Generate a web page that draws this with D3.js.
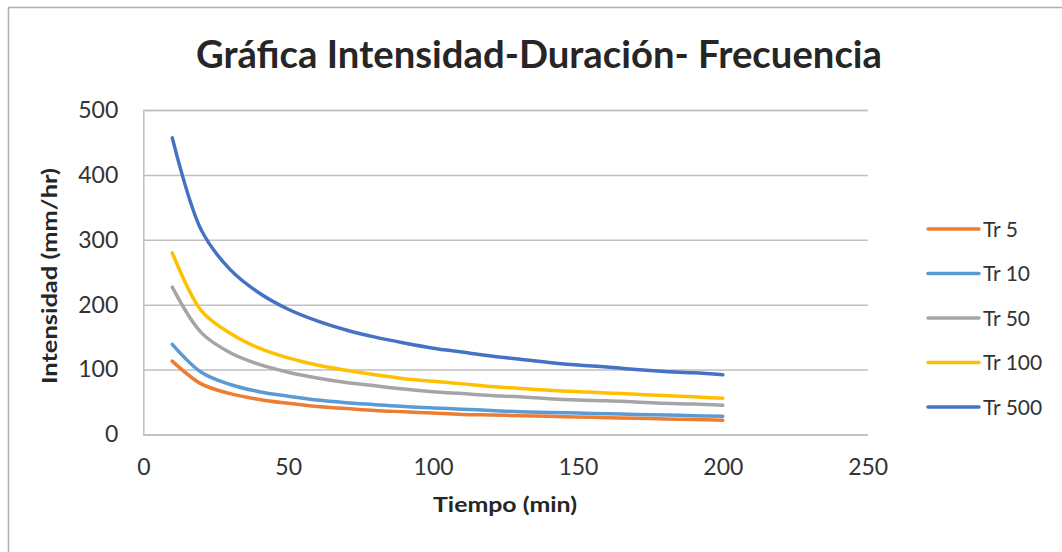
<!DOCTYPE html>
<html>
<head>
<meta charset="utf-8">
<script src="https://cdn.jsdelivr.net/npm/d3@7"></script>
<style>
  html, body { margin: 0; padding: 0; background: #fff; }
  svg { display: block; font-family: Lato, "Open Sans", sans-serif; }
</style>
</head>
<body>
<svg id="chart" width="1062" height="552"></svg>
<script>
// Duration (min) and rainfall intensity (mm/hr) for each return period
const durations = [10, 20, 30, 40, 50, 60, 70, 80, 90, 100, 110, 120, 130, 140, 150, 160, 170, 180, 190, 200];
const tr5   = [113, 78, 63, 54, 48, 43, 40, 37, 35, 33, 31, 30, 29, 28, 27, 26, 25, 24, 23, 22];
const tr10  = [139, 96, 77, 66, 59, 53, 49, 46, 43, 41, 39, 37, 35, 34, 33, 32, 31, 30, 29, 28];
const tr50  = [227, 157, 126, 108, 96, 87, 80, 75, 70, 66, 63, 60, 58, 55, 53, 52, 50, 48, 47, 45];
const tr100 = [280, 191, 156, 133, 118, 107, 99, 92, 86, 82, 78, 74, 71, 68, 66, 64, 62, 60, 58, 56];
const tr500 = [457, 315, 254, 218, 193, 175, 161, 150, 141, 133, 127, 121, 116, 111, 107, 104, 100, 97, 95, 92];

const seriesNames = ["Tr 5", "Tr 10", "Tr 50", "Tr 100", "Tr 500"];
const seriesValues = [tr5, tr10, tr50, tr100, tr500];
const seriesColors = ["#ED7D31", "#5B9BD5", "#A5A5A5", "#FFC000", "#4472C4"];

const xTicks = [0, 50, 100, 150, 200, 250];
const yTicks = [0, 100, 200, 300, 400, 500];

const titleText = "Gráfica Intensidad-Duración- Frecuencia";
const xTitle = "Tiempo (min)";
const yTitle = "Intensidad (mm/hr)";

const svg = d3.select("#chart");
const W = 1062, H = 552;
const plot = { left: 143.3, right: 867.7, top: 110, bottom: 434.5 };

const x = d3.scaleLinear().domain([0, 250]).range([plot.left, plot.right]);
const y = d3.scaleLinear().domain([0, 500]).range([plot.bottom, plot.top]);

const gridColor = "#BFBFBF";
const textColor = "#333333";

// chart frame
svg.append("rect")
  .attr("x", 8.5).attr("y", 7.5)
  .attr("width", W + 10).attr("height", H + 10)
  .attr("fill", "#fff")
  .attr("stroke", "#B0B0B0").attr("stroke-width", 1.5);

// title
svg.append("text")
  .attr("x", 539).attr("y", 68)
  .attr("text-anchor", "middle")
  .attr("font-size", 38).attr("font-weight", 700)
  .attr("fill", "#262626")
  .attr("textLength", 686).attr("lengthAdjust", "spacingAndGlyphs")
  .text(titleText);

// horizontal gridlines and y labels
const yAxis = d3.axisLeft(y).tickValues(yTicks).tickSize(-(plot.right - plot.left)).tickPadding(25).tickFormat(d3.format("d"));
const gy = svg.append("g").attr("transform", `translate(${plot.left},0)`).call(yAxis);
gy.select(".domain").attr("stroke", gridColor).attr("stroke-width", 1.5);
gy.selectAll(".tick line").attr("stroke", gridColor).attr("stroke-width", 1.5);
gy.selectAll(".tick text")
  .attr("font-family", "Lato, sans-serif").attr("font-size", 23).attr("fill", textColor);

// x axis labels
const xAxis = d3.axisBottom(x).tickValues(xTicks).tickSize(0).tickPadding(24).tickFormat(d3.format("d"));
const gx = svg.append("g").attr("transform", `translate(0,${plot.bottom})`).call(xAxis);
gx.select(".domain").remove();
gx.selectAll(".tick text")
  .attr("font-family", "Lato, sans-serif").attr("font-size", 23).attr("fill", textColor);

// axis titles
svg.append("text")
  .attr("x", 505).attr("y", 512)
  .attr("text-anchor", "middle")
  .attr("font-size", 21).attr("font-weight", 700).attr("fill", "#262626")
  .attr("textLength", 144).attr("lengthAdjust", "spacingAndGlyphs")
  .text(xTitle);

svg.append("text")
  .attr("transform", `translate(57,276) rotate(-90)`)
  .attr("text-anchor", "middle")
  .attr("font-size", 21).attr("font-weight", 700).attr("fill", "#262626")
  .attr("textLength", 216).attr("lengthAdjust", "spacingAndGlyphs")
  .text(yTitle);

// series lines
const line = d3.line()
  .x(d => x(d[0]))
  .y(d => y(d[1]))
  .curve(d3.curveCatmullRom.alpha(0.5));

seriesValues.forEach((vals, i) => {
  const pts = durations.map((t, k) => [t, vals[k]]);
  svg.append("path")
    .datum(pts)
    .attr("fill", "none")
    .attr("stroke", seriesColors[i])
    .attr("stroke-width", 3.5)
    .attr("stroke-linecap", "round")
    .attr("stroke-linejoin", "round")
    .attr("d", line);
});

// legend
const legendY = d3.scalePoint().domain(seriesNames).range([229, 407]);
const lg = svg.append("g");
seriesNames.forEach((name, i) => {
  const yy = legendY(name);
  lg.append("line")
    .attr("x1", 928).attr("x2", 979)
    .attr("y1", yy).attr("y2", yy)
    .attr("stroke", seriesColors[i]).attr("stroke-width", 3.5)
    .attr("stroke-linecap", "round");
  lg.append("text")
    .attr("x", 983).attr("y", yy).attr("dy", "0.36em")
    .attr("font-size", 21).attr("fill", textColor)
    .text(name);
});
</script>
</body>
</html>
